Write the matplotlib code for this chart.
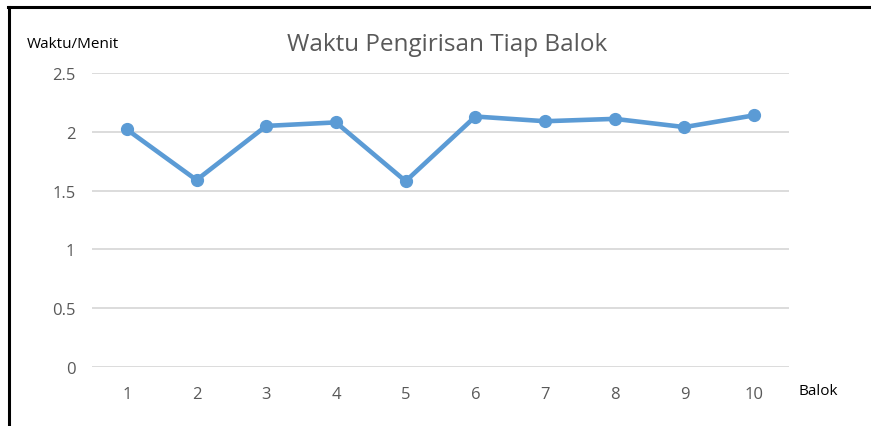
import matplotlib
matplotlib.use("Agg")
import matplotlib.pyplot as plt
from matplotlib.lines import Line2D

plt.rcParams['font.family'] = ['Open Sans', 'DejaVu Sans']

# data
balok = [1, 2, 3, 4, 5, 6, 7, 8, 9, 10]
waktu = [2.02, 1.59, 2.05, 2.08, 1.58, 2.13, 2.09, 2.11, 2.04, 2.14]
y_ticks = [0, 0.5, 1, 1.5, 2, 2.5]
y_labels = ["0", "0.5", "1", "1.5", "2", "2.5"]

W, H = 871, 427
fig = plt.figure(figsize=(W / 100, H / 100), dpi=100)
ax = fig.add_axes([92 / W, 1 - 368 / H, (789 - 92) / W, (368 - 74) / H])

ax.plot(balok, waktu, color="#5B9BD5", linewidth=3.3, marker="o",
        markersize=8.5, solid_capstyle="round", zorder=3)

ax.set_xlim(0.5, 10.5)
ax.set_ylim(0, 2.5)
ax.set_xticks(balok)
ax.set_xticklabels([str(b) for b in balok])
ax.set_yticks(y_ticks)
ax.set_yticklabels(y_labels)
ax.tick_params(axis="both", length=0, labelsize=12, labelcolor="#595959")
ax.tick_params(axis="x", pad=14)
ax.tick_params(axis="y", pad=12)
ax.grid(axis="y", color="#D9D9D9", linewidth=1.3)
ax.set_axisbelow(True)
for s in ax.spines.values():
    s.set_visible(False)

fig.text(447 / W, 1 - 45 / H, "Waktu Pengirisan Tiap Balok", ha="center",
         va="center", fontsize=17.5, color="#595959")
fig.text(27 / W, 1 - 44 / H, "Waktu/Menit", ha="left", va="center",
         fontsize=11, color="#000000")
fig.text(798 / W, 1 - 392 / H, "Balok", ha="left", va="center",
         fontsize=11, color="#000000")

# frame lines (top and left only)
fig.add_artist(Line2D([9 / W, 9 / W], [0, 1 - 8 / H], transform=fig.transFigure,
                      color="black", linewidth=2.2))
fig.add_artist(Line2D([8 / W, 1], [1 - 8 / H, 1 - 8 / H], transform=fig.transFigure,
                      color="black", linewidth=2.2))

fig.savefig("out.png", dpi=100)
